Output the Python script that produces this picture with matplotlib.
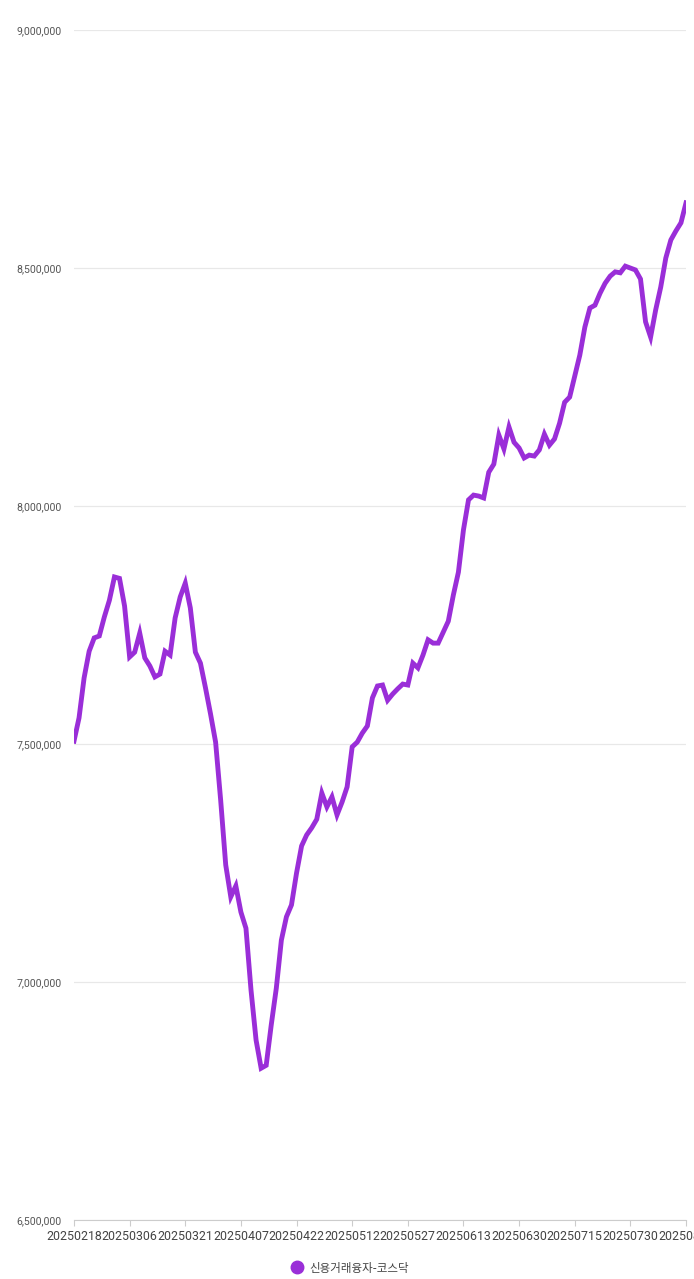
import matplotlib.pyplot as plt
from matplotlib.lines import Line2D
from matplotlib.ticker import FuncFormatter, MultipleLocator

# trading days, 2025-02-18 .. 2025-08-14
month_days = {
    "02": [18, 19, 20, 21, 24, 25, 26, 27, 28],
    "03": [4, 5, 6, 7, 10, 11, 12, 13, 14, 17, 18, 19, 20, 21, 24, 25, 26, 27, 28, 31],
    "04": [1, 2, 3, 4, 7, 8, 9, 10, 11, 14, 15, 16, 17, 18, 21, 22, 23, 24, 25, 28, 29, 30],
    "05": [2, 7, 8, 9, 12, 13, 14, 15, 16, 19, 20, 21, 22, 23, 26, 27, 28, 29, 30],
    "06": [2, 4, 5, 9, 10, 11, 12, 13, 16, 17, 18, 19, 20, 23, 24, 25, 26, 27, 30],
    "07": [1, 2, 3, 4, 7, 8, 9, 10, 11, 14, 15, 16, 17, 18, 21, 22, 23, 24, 25, 28, 29, 30, 31],
    "08": [1, 4, 5, 6, 7, 8, 11, 12, 13, 14],
}
dates = [f"2025{m}{d:02d}" for m, days in month_days.items() for d in days]

# 신용거래융자-코스닥 (thousand)
kosdaq_credit = [
    7506, 7555, 7639, 7695, 7723, 7727, 7767, 7802, 7851, 7848,
    7790, 7683, 7693, 7733, 7681, 7664, 7641, 7647, 7695, 7687,
    7765, 7809, 7838, 7786, 7693, 7670, 7618, 7563, 7504, 7382,
    7246, 7179, 7202, 7147, 7113, 6983, 6878, 6819, 6825, 6910,
    6987, 7088, 7137, 7162, 7229, 7286, 7309, 7324, 7342, 7397,
    7368, 7389, 7351, 7378, 7410, 7494, 7504, 7523, 7538, 7597,
    7622, 7624, 7592, 7605, 7616, 7626, 7624, 7670, 7660, 7687,
    7719, 7712, 7712, 7735, 7758, 7813, 7861, 7950, 8013, 8023,
    8021, 8017, 8071, 8088, 8149, 8120, 8166, 8134, 8122, 8101,
    8107, 8105, 8118, 8151, 8128, 8141, 8174, 8218, 8229, 8273,
    8317, 8376, 8416, 8422, 8447, 8468, 8483, 8492, 8490, 8504,
    8500, 8496, 8477, 8387, 8355, 8412, 8460, 8521, 8559, 8578,
    8595, 8637,
]
values = [v * 1000 for v in kosdaq_credit]
series_name = "신용거래융자-코스닥"
line_color = "#9a2ed8"

plt.rcParams["font.family"] = ["Roboto", "Noto Sans CJK KR", "DejaVu Sans"]

fig = plt.figure(figsize=(6.94, 12.79), dpi=100)
ax = fig.add_axes([0.1066, 0.0461, 0.8819, 0.9304])

x = list(range(len(dates)))
ax.plot(x, values, color=line_color, linewidth=3.5, solid_joinstyle="miter")

ax.set_xlim(0, len(dates) - 1)
ax.set_ylim(6_500_000, 9_000_000)
ax.yaxis.set_major_locator(MultipleLocator(500_000))
ax.yaxis.set_major_formatter(FuncFormatter(lambda v, p: f"{int(v):,}"))

tick_idx = list(range(0, len(dates), 11))
ax.set_xticks(tick_idx)
ax.set_xticklabels([dates[i] for i in tick_idx])

ax.grid(axis="y", color="#e8e8e8", linewidth=0.9)
ax.set_axisbelow(True)
for side in ["top", "right", "left"]:
    ax.spines[side].set_visible(False)
ax.spines["bottom"].set_color("#cccccc")
ax.tick_params(axis="y", length=0, pad=9, labelsize=7.6, labelcolor="#555555")
ax.tick_params(axis="x", length=4.5, color="#cccccc", pad=3, labelsize=8.9,
               labelcolor="#444444")

handle = Line2D([], [], color=line_color, marker="o", linestyle="none", markersize=9)
fig.legend([handle], [series_name], loc="center", bbox_to_anchor=(0.5, 0.0086),
           frameon=False, handletextpad=0.05, labelcolor="#444444",
           prop={"family": ["Noto Sans CJK KR", "DejaVu Sans"], "size": 8.3})

fig.savefig("out.png", dpi=100, facecolor="white")
